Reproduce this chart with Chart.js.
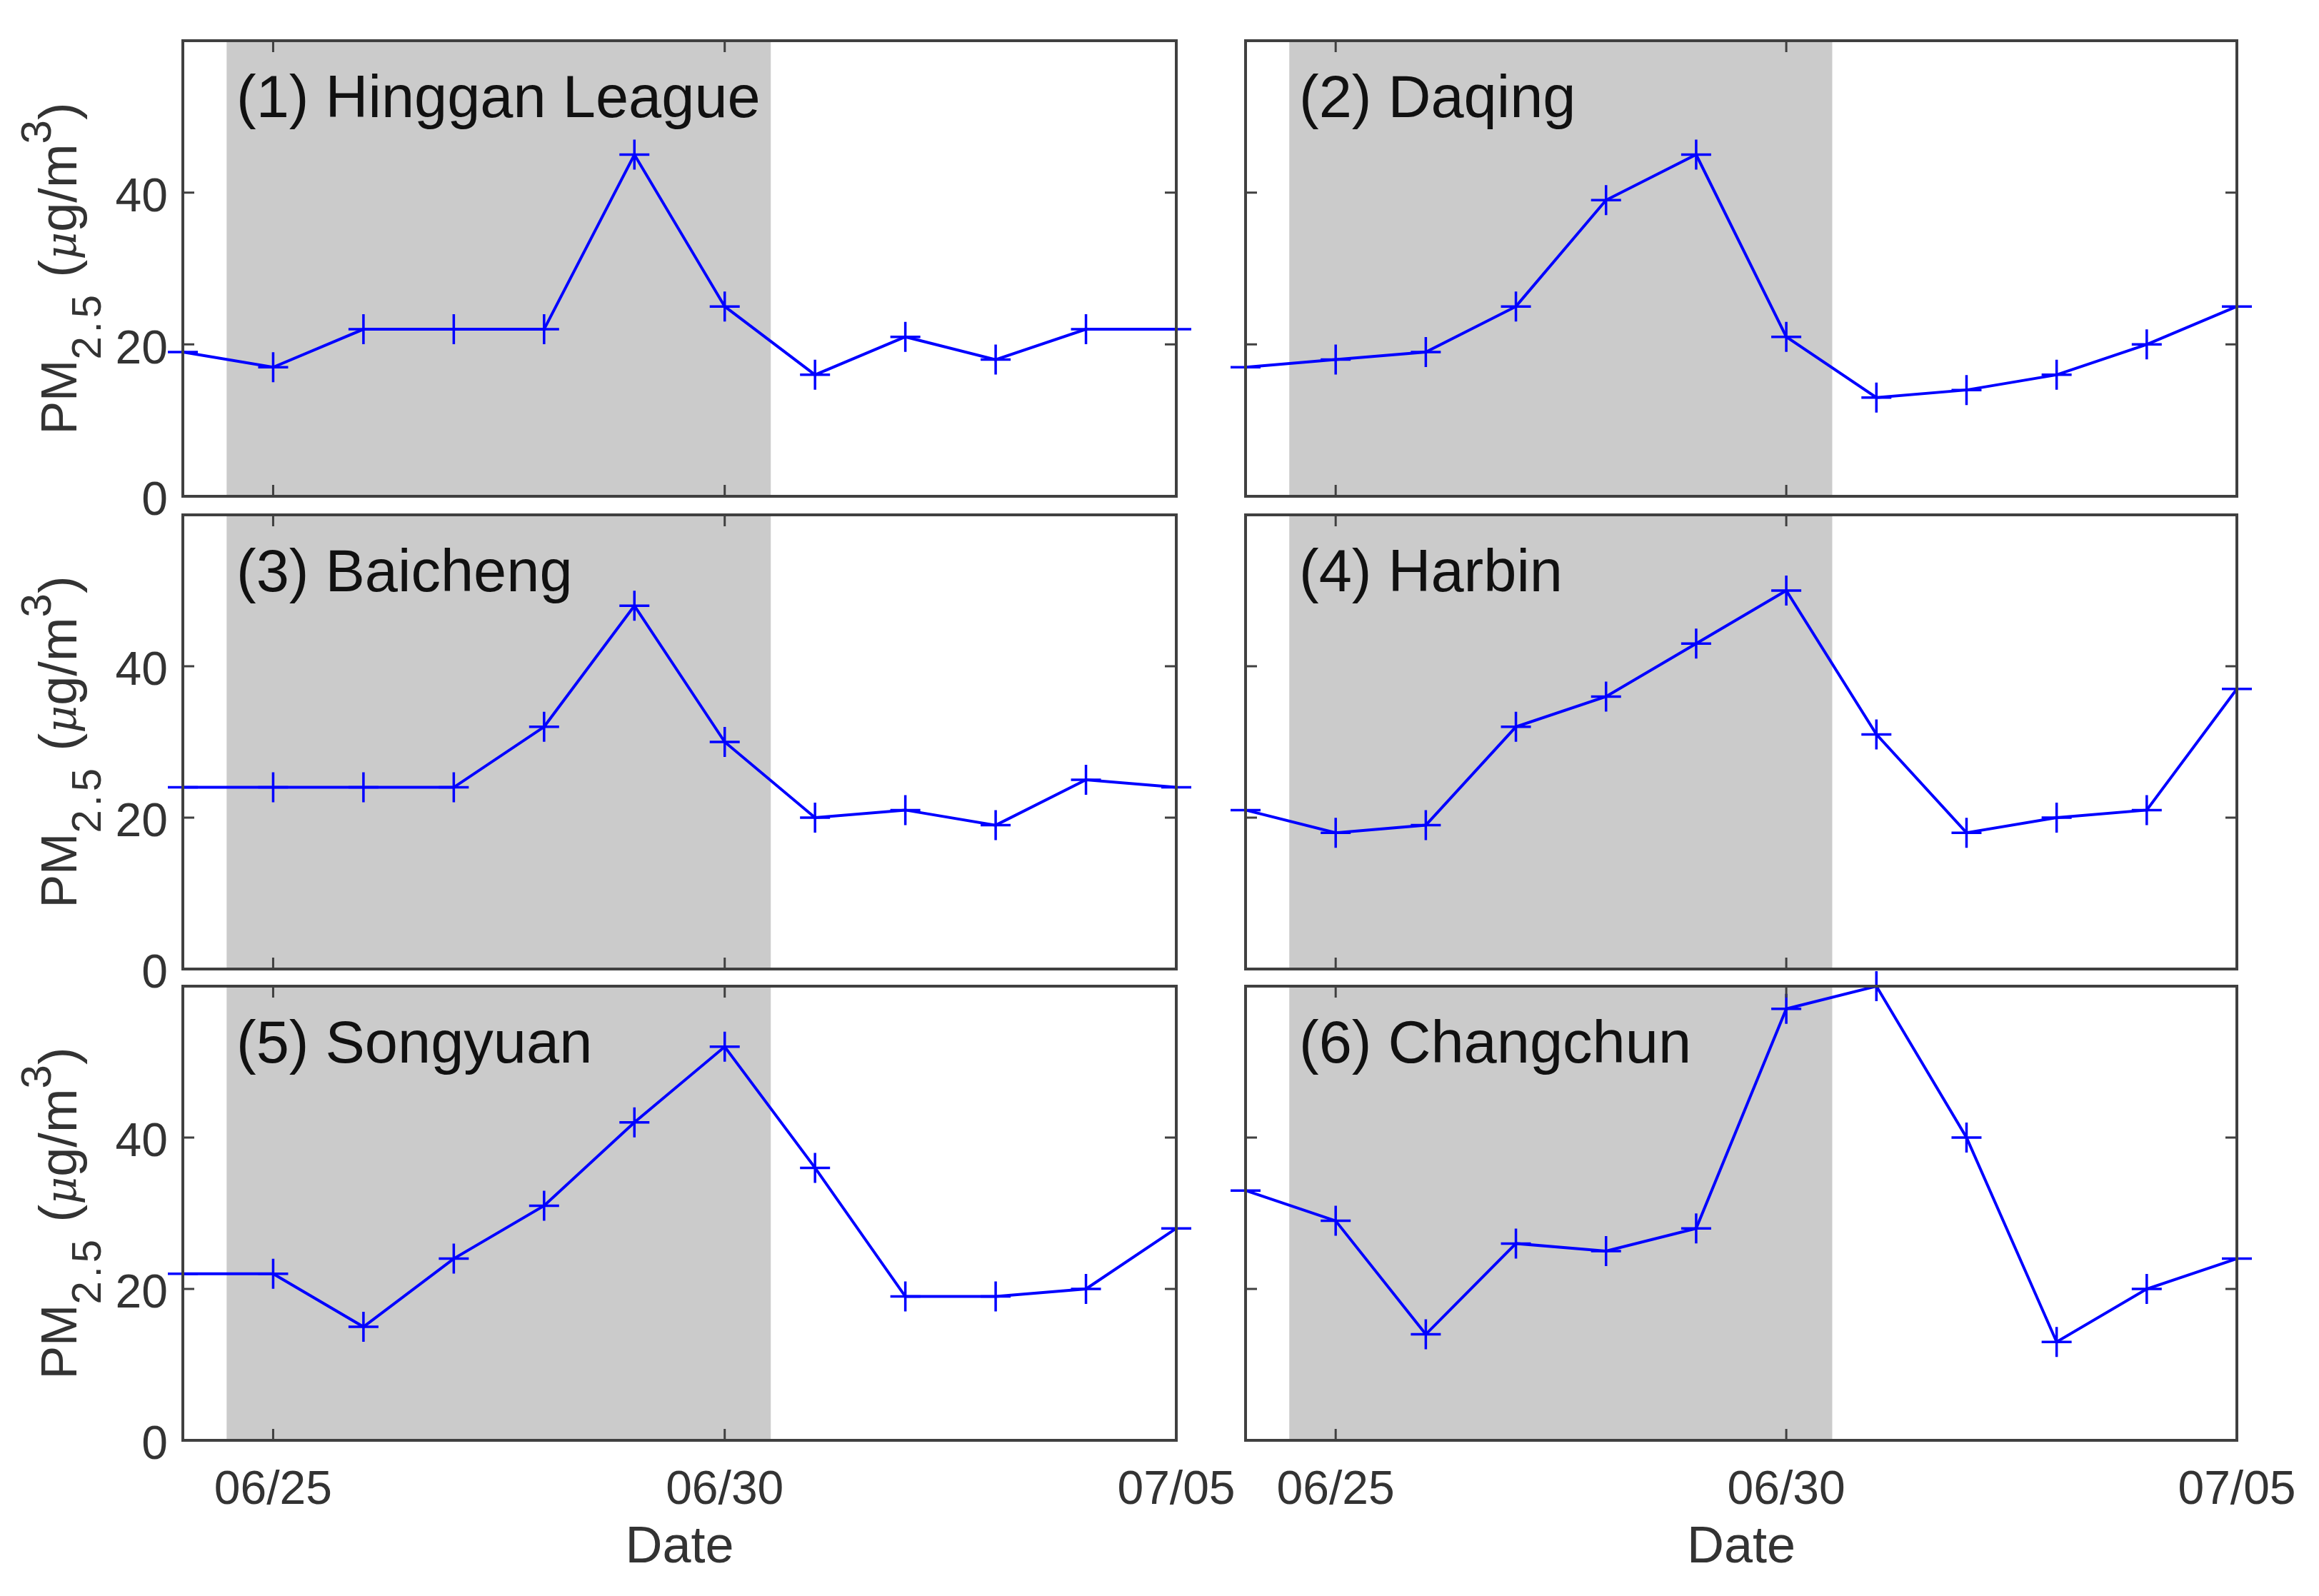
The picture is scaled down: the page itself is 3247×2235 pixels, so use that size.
<!DOCTYPE html>
<html>
<head>
<meta charset="utf-8">
<style>
    html, body { margin: 0; padding: 0; background: #fff; }
    #page { position: relative; width: 3247px; height: 2235px; overflow: hidden; font-family: "Liberation Sans", Arial, sans-serif; }
    canvas { position: absolute; }
    .panel-title { position: absolute; font-size: 83px; line-height: 100px; color: #111; white-space: nowrap; }
    .y-title { position: absolute; width: 640px; height: 90px; line-height: 90px; text-align: center; font-size: 70px; color: #333; white-space: nowrap; transform: rotate(-90deg); }
    .y-title .unit { font-size: 74px; }
    .y-title i { font-family: "DejaVu Serif", serif; font-size: 60px; }
    .y-title .sub { position: relative; top: 34px; font-size: 58px; letter-spacing: 5px; }
    .y-title .sup { position: relative; top: -36px; font-size: 60px; }
</style>
</head>
<body>
<div id="page"></div>
<script src="https://cdn.jsdelivr.net/npm/chart.js@4/dist/chart.umd.min.js"></script>
<script>
    const dates = ['06/24', '06/25', '06/26', '06/27', '06/28', '06/29', '06/30', '07/01', '07/02', '07/03', '07/04', '07/05'];
    const xTickLabels = ['06/25', '06/30', '07/05'];
    const yTickLabels = [0, 20, 40];

    const hingganLeague = [19, 17, 22, 22, 22, 45, 25, 16, 21, 18, 22, 22];
    const daqing = [17, 18, 19, 25, 39, 45, 21, 13, 14, 16, 20, 25];
    const baicheng = [24, 24, 24, 24, 32, 48, 30, 20, 21, 19, 25, 24];
    const harbin = [21, 18, 19, 32, 36, 43, 50, 31, 18, 20, 21, 37];
    const songyuan = [22, 22, 15, 24, 31, 42, 52, 36, 19, 19, 20, 28];
    const changchun = [33, 29, 14, 26, 25, 28, 57, 60, 40, 13, 20, 24];

    const allSeries = [hingganLeague, daqing, baicheng, harbin, songyuan, changchun];
    const panelTitles = ['(1) Hinggan League', '(2) Daqing', '(3) Baicheng', '(4) Harbin', '(5) Songyuan', '(6) Changchun'];

    // shaded period, as positions on the date axis
    const shadeStart = 0.485;
    const shadeEnd = 6.51;

    // plot rectangles in page pixels
    const colLefts = [256, 1744];
    const colRights = [1647, 3132];
    const rowTops = [57, 721, 1381];
    const rowBottoms = [695, 1357, 2017];
    const gutterLeft = 130, gutterRight = 95, gutterTop = 40, gutterBottom = 218;

    const axisColor = '#404040';
    const textColor = '#333333';

    const boxPlugin = {
        id: 'boxPlugin',
        beforeDatasetsDraw(chart) {
            const { ctx, chartArea: a, scales: { x } } = chart;
            ctx.save();
            ctx.fillStyle = '#cbcbcb';
            const x0 = x.getPixelForValue(shadeStart), x1 = x.getPixelForValue(shadeEnd);
            ctx.fillRect(x0, a.top, x1 - x0, a.bottom - a.top);
            ctx.restore();
        },
        afterDatasetsDraw(chart) {
            // frame and inward ticks on all four sides, like the matlab axes
            const { ctx, chartArea: a, scales: { x, y } } = chart;
            const len = 16;
            ctx.save();
            ctx.strokeStyle = axisColor;
            ctx.lineWidth = 4;
            ctx.strokeRect(a.left, a.top, a.right - a.left, a.bottom - a.top);
            ctx.lineWidth = 3;
            ctx.beginPath();
            xTickLabels.forEach(label => {
                const px = x.getPixelForValue(dates.indexOf(label));
                ctx.moveTo(px, a.top); ctx.lineTo(px, a.top + len);
                ctx.moveTo(px, a.bottom); ctx.lineTo(px, a.bottom - len);
            });
            yTickLabels.forEach(v => {
                const py = y.getPixelForValue(v);
                ctx.moveTo(a.left, py); ctx.lineTo(a.left + len, py);
                ctx.moveTo(a.right, py); ctx.lineTo(a.right - len, py);
            });
            ctx.stroke();
            ctx.restore();
        }
    };

    // no extra room for half labels, the gutters already hold them
    function noScalePadding(s) {
        s.paddingLeft = s.paddingRight = s.paddingTop = s.paddingBottom = 0;
    }

    const page = document.getElementById('page');

    allSeries.forEach((values, i) => {
        const col = i % 2, row = Math.floor(i / 2);
        const canvasLeft = colLefts[col] - gutterLeft;
        const canvasTop = rowTops[row] - gutterTop;

        const canvas = document.createElement('canvas');
        canvas.width = colRights[col] - colLefts[col] + gutterLeft + gutterRight;
        canvas.height = rowBottoms[row] - rowTops[row] + gutterTop + gutterBottom;
        canvas.style.left = canvasLeft + 'px';
        canvas.style.top = canvasTop + 'px';
        canvas.style.zIndex = 3 - row;
        page.appendChild(canvas);

        new Chart(canvas.getContext('2d'), {
            type: 'line',
            data: {
                labels: dates,
                datasets: [{
                    data: values,
                    borderColor: '#0000ff',
                    borderWidth: 4,
                    tension: 0,
                    clip: false,
                    pointStyle: 'cross',
                    pointRadius: 21,
                    pointBorderColor: '#0000ff',
                    pointBorderWidth: 3.5
                }]
            },
            options: {
                responsive: false,
                animation: false,
                devicePixelRatio: 1,
                layout: { padding: { top: gutterTop, right: gutterRight, left: 0, bottom: 0 } },
                plugins: { legend: { display: false }, tooltip: { enabled: false } },
                scales: {
                    x: {
                        grid: { display: false, drawTicks: false },
                        border: { display: false },
                        offset: false,
                        afterFit: s => { s.height = gutterBottom; noScalePadding(s); },
                        title: {
                            display: row === 2,
                            text: 'Date',
                            color: textColor,
                            font: { family: 'Liberation Sans', size: 72 },
                            padding: { top: 0, bottom: 24 }
                        },
                        ticks: {
                            display: row === 2,
                            autoSkip: false,
                            maxRotation: 0,
                            padding: 31,
                            color: textColor,
                            font: { family: 'Liberation Sans', size: 66 },
                            callback(value) {
                                const label = this.getLabelForValue(value);
                                return xTickLabels.includes(label) ? label : '';
                            }
                        }
                    },
                    y: {
                        min: 0,
                        max: 60,
                        grid: { display: false, drawTicks: false },
                        border: { display: false },
                        afterFit: s => { s.width = gutterLeft; noScalePadding(s); },
                        ticks: {
                            display: col === 0,
                            stepSize: 20,
                            padding: 21,
                            labelOffset: 8,
                            color: textColor,
                            font: { family: 'Liberation Sans', size: 66 },
                            callback: v => yTickLabels.includes(v) ? String(v) : ''
                        }
                    }
                }
            },
            plugins: [boxPlugin]
        });

        const title = document.createElement('div');
        title.className = 'panel-title';
        title.textContent = panelTitles[i];
        title.style.left = (colLefts[col] + 75) + 'px';
        title.style.top = (rowTops[row] + 29) + 'px';
        title.style.zIndex = 10;
        page.appendChild(title);

        if (col === 0) {
            const yTitle = document.createElement('div');
            yTitle.className = 'y-title';
            yTitle.innerHTML = 'PM<span class="sub">2.5</span> <span class="unit">(<i>\u03bc</i>g/m<span class="sup">3</span>)</span>';
            yTitle.style.left = (82 - 320) + 'px';
            yTitle.style.top = ((rowTops[row] + rowBottoms[row]) / 2 - 45) + 'px';
            yTitle.style.zIndex = 10;
            page.appendChild(yTitle);
        }
    });
</script>
</body>
</html>
